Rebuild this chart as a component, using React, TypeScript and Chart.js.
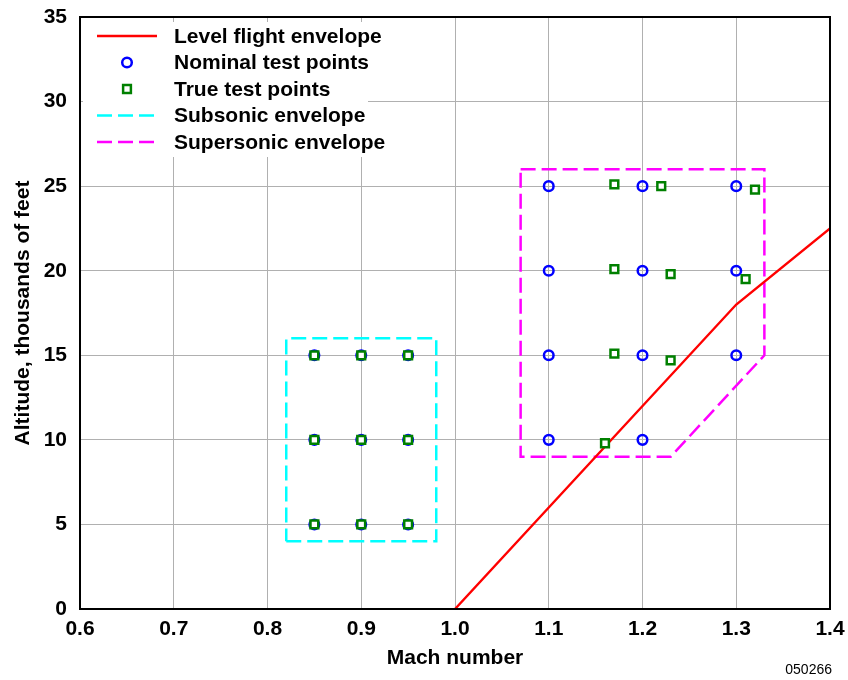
import React, { useEffect, useRef } from "react";
import { Chart, registerables } from "chart.js";

Chart.register(...registerables);

// ---- Data ----
const levelMach = [1.0, 1.3, 1.4];
const levelAlt = [0, 18, 22.5];

const nominalMach = [0.85, 0.9, 0.95, 0.85, 0.9, 0.95, 0.85, 0.9, 0.95, 1.1, 1.1, 1.1, 1.1, 1.2, 1.2, 1.2, 1.2, 1.3, 1.3, 1.3];
const nominalAlt = [5, 5, 5, 10, 10, 10, 15, 15, 15, 10, 15, 20, 25, 10, 15, 20, 25, 15, 20, 25];

const trueMach = [0.85, 0.9, 0.95, 0.85, 0.9, 0.95, 0.85, 0.9, 0.95, 1.16, 1.17, 1.23, 1.17, 1.23, 1.31, 1.17, 1.22, 1.32];
const trueAlt = [5, 5, 5, 10, 10, 10, 15, 15, 15, 9.8, 15.1, 14.7, 20.1, 19.8, 19.5, 25.1, 25.0, 24.8];

const subsonicMach = [0.82, 0.98, 0.98, 0.82, 0.82];
const subsonicAlt = [4, 4, 16, 16, 4];

const supersonicMach = [1.07, 1.33, 1.33, 1.23, 1.07, 1.07];
const supersonicAlt = [26, 26, 15, 9, 9, 26];

const legendLabels = [
  "Level flight envelope",
  "Nominal test points",
  "True test points",
  "Subsonic envelope",
  "Supersonic envelope",
];

const xTickMin = 0.6;
const xTickMax = 1.4;
const yTickMin = 0;
const yTickMax = 35;
const figureId = "050266";

const FONT = "'Liberation Sans', Arial, Helvetica, sans-serif";

const zip = (xs: number[], ys: number[]) => xs.map((x, i) => ({ x, y: ys[i] }));

const zeroPad = (s: any) => {
  s.paddingTop = 0;
  s.paddingBottom = 0;
  s.paddingLeft = 0;
  s.paddingRight = 0;
};

const decoPlugin = {
  id: "deco",
  afterDraw(chart: any) {
    const ctx = chart.ctx;
    const a = chart.chartArea;
    ctx.save();
    // legend background
    ctx.fillStyle = "#ffffff";
    ctx.fillRect(a.left + 3, a.top + 5, 285, 135);
    const ds = chart.data.datasets;
    const rowY0 = a.top + 19;
    const rowH = 26.5;
    const x0 = a.left + 17;
    const x1 = a.left + 77;
    const xm = (x0 + x1) / 2;
    ds.forEach((d: any, i: number) => {
      const y = rowY0 + i * rowH;
      ctx.save();
      if (d.showLine === false) {
        ctx.strokeStyle = d.borderColor;
        ctx.lineWidth = d.borderWidth;
        ctx.fillStyle = d.backgroundColor;
        ctx.beginPath();
        if (d.pointStyle === "rect") {
          const s = d.pointRadius * Math.SQRT1_2;
          ctx.rect(xm - s, y - s, 2 * s, 2 * s);
          ctx.fill();
        } else {
          ctx.arc(xm, y, d.pointRadius, 0, Math.PI * 2);
        }
        ctx.stroke();
      } else {
        ctx.strokeStyle = d.borderColor;
        ctx.lineWidth = d.borderWidth;
        ctx.setLineDash(d.borderDash || []);
        ctx.beginPath();
        ctx.moveTo(x0, y);
        ctx.lineTo(x1, y);
        ctx.stroke();
      }
      ctx.restore();
      ctx.fillStyle = "#000";
      ctx.font = `bold 21px ${FONT}`;
      ctx.textAlign = "left";
      ctx.textBaseline = "middle";
      ctx.fillText(d.label, a.left + 94, y + 1);
    });
    // plot frame
    ctx.strokeStyle = "#000";
    ctx.lineWidth = 2;
    ctx.strokeRect(a.left, a.top, a.right - a.left, a.bottom - a.top);
    // figure id
    ctx.fillStyle = "#000";
    ctx.font = `14px ${FONT}`;
    ctx.textAlign = "right";
    ctx.textBaseline = "middle";
    ctx.fillText(figureId, 832, 670);
    ctx.restore();
  },
};

export default function App() {
  const ref = useRef<HTMLCanvasElement | null>(null);
  useEffect(() => {
    if (!ref.current) return;
    const chart = new Chart(ref.current, {
      type: "scatter",
      data: {
        datasets: [
          {
            type: "line",
            label: legendLabels[0],
            data: zip(levelMach, levelAlt),
            borderColor: "#ff0000",
            borderWidth: 2.4,
            pointRadius: 0,
            showLine: true,
            fill: false,
            order: 2,
          },
          {
            label: legendLabels[1],
            data: zip(nominalMach, nominalAlt),
            borderColor: "#0000ff",
            backgroundColor: "rgba(0,0,0,0)",
            borderWidth: 2.5,
            pointRadius: 4.8,
            pointHoverRadius: 4.8,
            pointStyle: "circle",
            showLine: false,
            order: 1,
          },
          {
            label: legendLabels[2],
            data: zip(trueMach, trueAlt),
            borderColor: "#008000",
            backgroundColor: "#ffffff",
            borderWidth: 2.5,
            pointRadius: 5.5,
            pointHoverRadius: 5.5,
            pointStyle: "rect",
            showLine: false,
            order: 0,
          },
          {
            type: "line",
            label: legendLabels[3],
            data: zip(subsonicMach, subsonicAlt),
            borderColor: "#00ffff",
            borderWidth: 2.5,
            borderDash: [15, 6],
            pointRadius: 0,
            showLine: true,
            fill: false,
            order: 3,
          },
          {
            type: "line",
            label: legendLabels[4],
            data: zip(supersonicMach, supersonicAlt),
            borderColor: "#ff00ff",
            borderWidth: 2.5,
            borderDash: [15, 6],
            pointRadius: 0,
            showLine: true,
            fill: false,
            order: 4,
          },
        ] as any,
      },
      options: {
        animation: false,
        responsive: false,
        devicePixelRatio: 1,
        layout: { padding: { top: 17, right: 18, left: 0, bottom: 0 } },
        plugins: {
          legend: { display: false },
          tooltip: { enabled: false },
        },
        scales: {
          x: {
            type: "linear",
            min: xTickMin,
            max: xTickMax,
            afterFit: (s: any) => {
              s.height = 71;
              zeroPad(s);
            },
            ticks: {
              stepSize: 0.1,
              callback: (v: any) => Number(v).toFixed(1),
              font: { family: FONT, size: 21, weight: "bold" },
              color: "#000",
              padding: 8,
              maxRotation: 0,
            },
            grid: { color: "#b0b0b0", lineWidth: 1, drawTicks: false },
            border: { display: false },
            title: {
              display: true,
              text: "Mach number",
              font: { family: FONT, size: 21, weight: "bold" },
              color: "#000",
              padding: { top: 0, bottom: 9 },
            },
          },
          y: {
            type: "linear",
            min: yTickMin,
            max: yTickMax,
            afterFit: (s: any) => {
              s.width = 80;
              zeroPad(s);
            },
            ticks: {
              stepSize: 5,
              font: { family: FONT, size: 21, weight: "bold" },
              color: "#000",
              padding: 13,
            },
            grid: { color: "#b0b0b0", lineWidth: 1, drawTicks: false },
            border: { display: false },
            title: {
              display: true,
              text: "Altitude, thousands of feet",
              font: { family: FONT, size: 21, weight: "bold" },
              color: "#000",
              padding: { top: 11, bottom: 0 },
            },
          },
        },
      } as any,
      plugins: [decoPlugin],
    });
    return () => chart.destroy();
  }, []);
  return (
    <div style={{ position: "fixed", left: 0, top: 0, width: 848, height: 680, background: "#fff" }}>
      <canvas ref={ref} width={848} height={680} style={{ display: "block" }} />
    </div>
  );
}
